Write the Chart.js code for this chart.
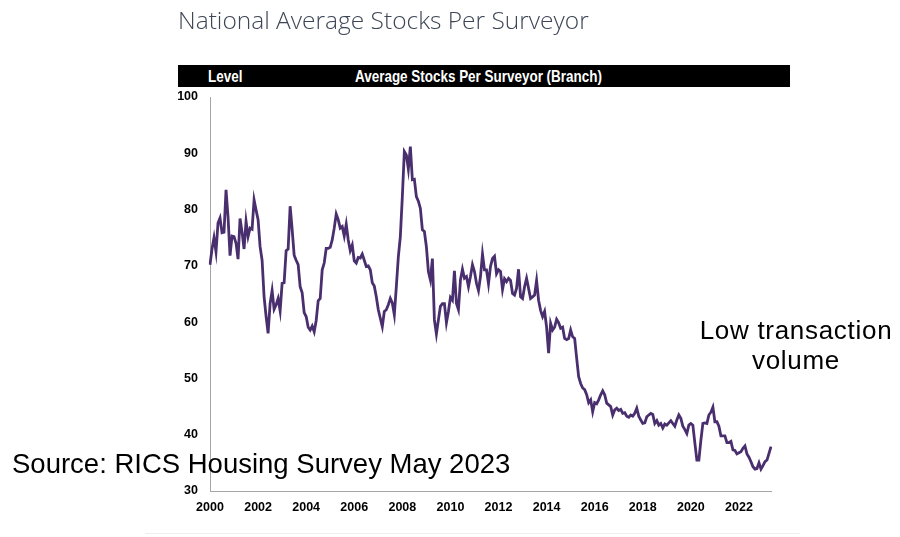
<!DOCTYPE html>
<html>
<head>
<meta charset="utf-8">
<title>National Average Stocks Per Surveyor</title>
<script src="https://cdn.jsdelivr.net/npm/chart.js@4.4.0/dist/chart.umd.min.js"></script>
<style>
	body { margin: 0; width: 900px; height: 537px; background: #fff; position: relative; overflow: hidden; font-family: "Liberation Sans", Arial, sans-serif; }
	#graphe { position: absolute; left: 0; top: 0; }
	#titre { position: absolute; left: 178px; top: 3px; font-family: "Open Sans", sans-serif; font-weight: 300; font-size: 24.5px; color: #3d4656; white-space: nowrap; }
	#bandeau { position: absolute; left: 178px; top: 65px; width: 612px; height: 22px; background: #000; }
	/* pas d'Arial Narrow dispo -> on compresse horizontalement */
	#bandeau span { position: absolute; top: 1px; color: #fff; font-weight: bold; font-size: 16.5px; line-height: 20px; white-space: nowrap; transform: scaleX(0.815); transform-origin: left center; }
	#niveau { left: 30px; }
	#serie { left: 177px; }
	#note { position: absolute; left: 680px; top: 315px; width: 232px; text-align: center; font-size: 26px; line-height: 30px; letter-spacing: 0.7px; color: #000; }
	#source { position: absolute; left: 12px; top: 450px; font-size: 27.5px; line-height: 27.5px; color: #000; white-space: nowrap; }
	#pied { position: absolute; left: 145px; top: 533px; width: 655px; height: 1px; background: #eeeeee; }
</style>
</head>
<body>
<canvas id="graphe" width="900" height="537"></canvas>
<div id="titre">National Average Stocks Per Surveyor</div>
<div id="bandeau"><span id="niveau">Level</span><span id="serie">Average Stocks Per Surveyor (Branch)</span></div>
<div id="note">Low transaction<br>volume</div>
<div id="source">Source: RICS Housing Survey May 2023</div>
<div id="pied"></div>

<script>
// années couvertes par la série mensuelle (jan 2000 -> mai 2023)
const years = ['2000', '2001', '2002', '2003', '2004', '2005', '2006', '2007', '2008', '2009', '2010', '2011',
	'2012', '2013', '2014', '2015', '2016', '2017', '2018', '2019', '2020', '2021', '2022', '2023'];
const lastMonth = 5; // mai 2023

// labels affichés sous l'axe (tous les 2 ans)
const tickLabels = ['2000', '2002', '2004', '2006', '2008', '2010', '2012', '2014', '2016', '2018', '2020', '2022'];

const yTicks = [30, 40, 50, 60, 70, 80, 90, 100];

const stocks = [
	70.2, 73.0, 75.0, 72.5, 77.6, 78.5, 75.9, 76.0, 83.5, 78.7, 71.8, 75.3, // 2000
	75.2, 74.0, 71.2, 78.4, 76.0, 73.0, 77.9, 75.2, 76.7, 76.5, 81.7, 79.9, // 2001
	78.2, 73.4, 71.0, 64.5, 61.0, 58.0, 63.3, 65.6, 62.3, 63.1, 64.2, 62.0, // 2002
	66.9, 67.0, 72.7, 73.0, 80.6, 76.5, 71.9, 71.0, 70.2, 66.3, 65.2, 61.7, // 2003
	61.0, 59.1, 58.6, 59.3, 58.3, 60.3, 63.8, 64.2, 69.3, 70.5, 73.1, 73.1, // 2004
	73.3, 74.6, 76.7, 79.2, 78.2, 76.7, 77.0, 75.3, 77.4, 74.6, 72.7, 73.7, // 2005
	70.9, 70.5, 71.5, 71.4, 72.1, 71.0, 69.9, 70.0, 69.3, 67.0, 66.4, 64.5, // 2006
	62.2, 60.7, 59.2, 61.9, 62.2, 63.1, 64.2, 63.4, 61.3, 66.3, 71.6, 75.2, // 2007
	82.3, 90.3, 89.7, 87.2, 91.2, 85.3, 85.4, 82.3, 81.5, 80.2, 76.4, 76.1, // 2008
	73.4, 69.0, 67.5, 71.3, 60.4, 57.9, 60.4, 62.8, 63.3, 63.3, 59.9, 61.9, // 2009
	64.4, 63.9, 69.1, 63.3, 62.2, 67.5, 69.4, 67.8, 68.1, 66.3, 68.1, 70.2, // 2010
	69.0, 66.9, 65.6, 68.1, 72.1, 69.3, 69.3, 66.8, 69.9, 71.3, 71.7, 68.6, // 2011
	69.3, 69.0, 65.8, 67.7, 67.2, 67.8, 67.4, 65.1, 64.8, 66.0, 69.4, 64.5, // 2012
	64.2, 66.3, 67.8, 66.0, 64.2, 64.5, 64.8, 67.4, 63.9, 62.1, 61.0, 61.9, // 2013
	59.1, 54.5, 59.8, 58.6, 59.1, 60.5, 59.9, 58.9, 59.1, 57.1, 56.9, 57.1, // 2014
	58.6, 57.4, 57.1, 53.6, 50.3, 49.1, 48.3, 48.0, 47.1, 45.7, 46.2, 44.1, // 2015
	45.7, 45.5, 46.2, 47.1, 47.8, 47.1, 45.6, 45.3, 45.0, 43.5, 44.4, 44.7, // 2016
	44.3, 44.5, 43.8, 43.9, 43.3, 43.1, 43.5, 43.3, 43.8, 44.7, 43.3, 42.6, // 2017
	42.0, 42.1, 43.2, 43.5, 43.8, 43.6, 42.0, 42.5, 41.7, 42.0, 41.2, 41.9, // 2018
	41.7, 42.1, 42.5, 42.0, 41.5, 42.6, 43.5, 42.9, 41.5, 40.9, 40.2, 41.7, // 2019
	42.0, 41.7, 38.5, 35.5, 35.5, 39.0, 42.0, 42.1, 42.0, 43.5, 44.0, 44.9, // 2020
	42.3, 42.3, 41.5, 39.8, 39.8, 39.8, 38.6, 38.6, 38.8, 37.3, 37.2, 36.6, // 2021
	36.8, 37.0, 37.6, 38.0, 36.6, 36.0, 35.2, 34.3, 33.9, 34.0, 35.0, 33.9, // 2022
	34.5, 35.2, 35.5, 36.7, 37.9                                            // 2023
];

document.addEventListener('DOMContentLoaded', function()
{
	drawChart();
});

function buildMonths()
{
	const months = [];
	years.forEach((y, i) =>
	{
		const nb = (i === years.length - 1) ? lastMonth : 12;
		for (let m = 1; m <= nb; m++)
			months.push(y + '-' + String(m).padStart(2, '0'));
	});
	return months;
}

function drawChart()
{
	const months = buildMonths();
	const tickFont = { family: '"Liberation Sans", Arial, sans-serif', size: 12.5, weight: 'bold' };

	const config = {
		type: 'line',
		data: {
			labels: months,
			datasets: [{
				label: 'Average Stocks Per Surveyor (Branch)',
				data: stocks,
				borderColor: '#4a2f6e',
				borderWidth: 2.8,
				pointRadius: 0,
				tension: 0,
				fill: false
			}]
		},
		options: {
			responsive: false,
			animation: false,
			layout: { padding: { top: 97, right: 129, left: 0, bottom: 0 } },
			plugins: {
				legend: { display: false },
				tooltip: { enabled: false }
			},
			scales: {
				x: {
					offset: false,
					grid: { display: false, drawTicks: false },
					border: { display: true, color: '#a6a6a6', width: 1 },
					ticks: {
						autoSkip: false,
						maxRotation: 0,
						padding: 9,
						color: '#000',
						font: tickFont,
						// un label tous les 24 mois
						callback: function(val, index)
						{
							return (index % 24 === 0) ? tickLabels[index / 24] : null;
						}
					},
					afterFit: function(scale) { scale.height = 46; }
				},
				y: {
					min: yTicks[0],
					max: yTicks[yTicks.length - 1],
					grid: { display: false, drawTicks: false },
					border: { display: true, color: '#a6a6a6', width: 1 },
					ticks: {
						stepSize: 10,
						padding: 12,
						color: '#000',
						font: tickFont
					},
					afterFit: function(scale) { scale.width = 210; }
				}
			}
		}
	};

	const ctx = document.getElementById('graphe').getContext('2d');
	new Chart(ctx, config);
}
</script>
</body>
</html>
